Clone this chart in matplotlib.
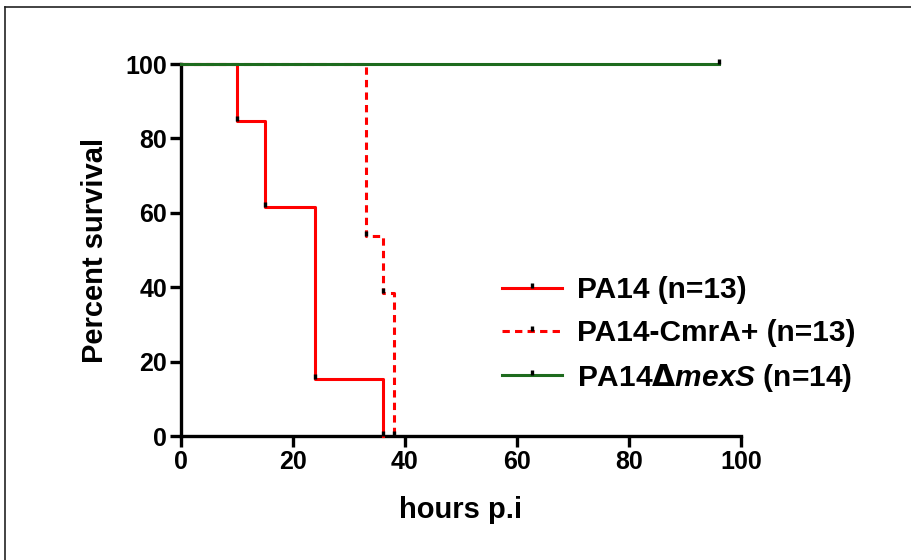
import matplotlib
matplotlib.use("Agg")
import matplotlib.pyplot as plt
from matplotlib.lines import Line2D

plt.rcParams['font.family'] = ['Liberation Sans', 'DejaVu Sans']
plt.rcParams['font.weight'] = 'bold'
plt.rcParams['mathtext.fontset'] = 'custom'
plt.rcParams['mathtext.it'] = 'Liberation Sans:italic:bold'

# Kaplan-Meier steps (hours p.i, percent survival)
pa14_t = [0, 10, 15, 24, 36]
pa14_s = [100, 84.6, 61.5, 15.4, 0]
cmra_t = [0, 33, 36, 38]
cmra_s = [100, 53.8, 38.5, 0]
mexs_t = [0, 96]
mexs_s = [100, 100]

labels = ["PA14 (n=13)", "PA14-CmrA+ (n=13)", "PA14$\\mathit{\\Delta mexS}$ (n=14)"]
RED = "#ff0000"
GREEN = "#1e6b1e"

# short black tick pointing up from the step corner
TICK = [(0, 0), (0, 1)]

fig = plt.figure(figsize=(9.12, 5.6), dpi=100)
ax = fig.add_axes([181 / 912, 1 - 436 / 560, 560 / 912, 372 / 560])

lw = 2.2
dash = (2.4, 1.7)
ax.plot(pa14_t, pa14_s, color=RED, lw=lw, drawstyle="steps-post", clip_on=False, zorder=3)
ax.plot(cmra_t, cmra_s, color=RED, lw=lw, drawstyle="steps-post", dashes=dash,
        clip_on=False, zorder=3)
ax.plot(mexs_t, mexs_s, color=GREEN, lw=lw, drawstyle="steps-post", clip_on=False, zorder=4)

mk = dict(marker=TICK, color="black", markersize=7, markeredgewidth=2.4, ls="none")
ax.plot(pa14_t[1:], pa14_s[1:], clip_on=False, zorder=5, **mk)
ax.plot(cmra_t[1:], cmra_s[1:], clip_on=False, zorder=5, **mk)
ax.plot(mexs_t[1:], mexs_s[1:], clip_on=False, zorder=5, **mk)

ax.set_xlim(0, 100)
ax.set_ylim(0, 100)
ax.set_xticks(range(0, 101, 20))
ax.set_yticks(range(0, 101, 20))
for s in ["top", "right"]:
    ax.spines[s].set_visible(False)
for s in ["left", "bottom"]:
    ax.spines[s].set_linewidth(2.4)
ax.tick_params(width=2.4, length=8, labelsize=18, pad=2)
for lab in ax.get_xticklabels() + ax.get_yticklabels():
    lab.set_fontweight("bold")

ax.set_xlabel("hours p.i", fontsize=21, fontweight="bold", labelpad=16)
ax.set_ylabel("Percent survival", fontsize=21, fontweight="bold", labelpad=12)

handles = [
    Line2D([], [], color=RED, lw=lw),
    Line2D([], [], color=RED, lw=lw, dashes=dash),
    Line2D([], [], color=GREEN, lw=lw),
]
marks = [Line2D([], [], **mk) for _ in handles]
leg = fig.legend([(h, m) for h, m in zip(handles, marks)], labels,
                 loc="center left", bbox_to_anchor=(502 / 912, 1 - 335 / 560),
                 frameon=False, fontsize=21.5, handlelength=2.0, handletextpad=0.5,
                 labelspacing=0.5, borderpad=0, borderaxespad=0)
for t in leg.get_texts():
    t.set_fontweight("bold")

# page frame around the figure
fig.add_artist(Line2D([5.5 / 912, 5.5 / 912], [0, 1 - 7 / 560], color="#222222", lw=1.2))
fig.add_artist(Line2D([5.5 / 912, 1], [1 - 7 / 560, 1 - 7 / 560], color="#222222", lw=1.2))

fig.savefig("out.png", dpi=100)
